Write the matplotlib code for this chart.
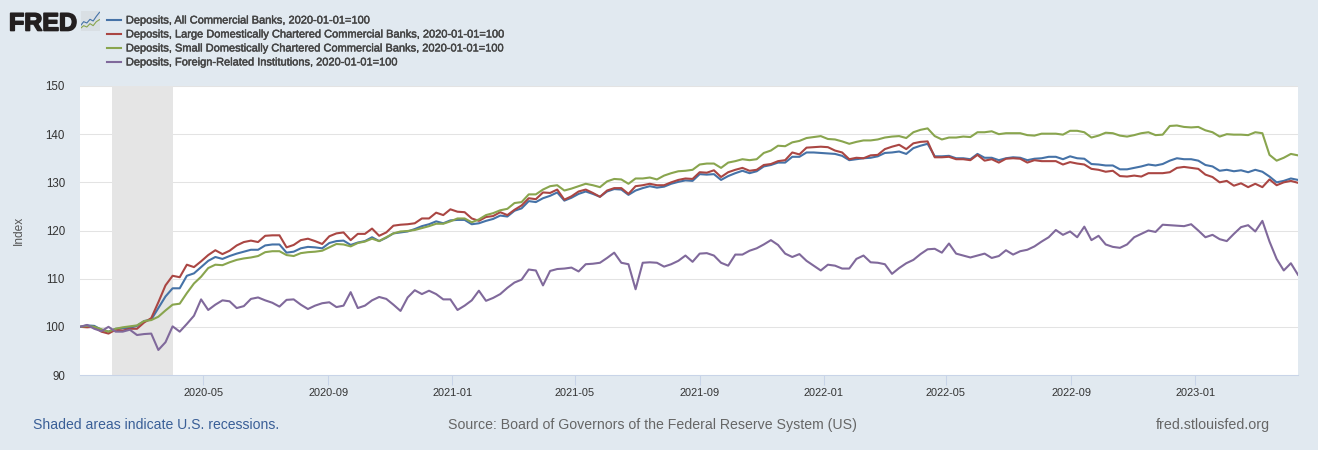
import matplotlib
matplotlib.use("Agg")
import matplotlib.pyplot as plt
import matplotlib.dates as mdates
import matplotlib.patheffects as pe
import pandas as pd

plt.rcParams['font.family'] = ['Liberation Sans', 'DejaVu Sans']

all_banks = [100,100.3,100.2,99.4,99.0,99.6,99.7,99.8,100.2,101.2,101.5,103.9,106.3,108.0,108.0,110.6,111.1,112.4,113.7,114.5,
 114.1,114.7,115.2,115.6,116.0,116.0,116.9,117.1,117.1,115.4,115.6,116.3,116.6,116.5,116.3,117.4,117.8,117.9,117.0,117.5,
 117.8,118.6,117.8,118.5,119.4,119.6,119.8,120.3,120.9,121.3,121.9,121.5,122.1,122.2,122.2,
 121.3,121.5,122.0,122.4,123.1,122.9,124.1,124.6,126.1,125.9,126.7,127.2,127.9,126.2,126.8,127.6,128.1,127.6,127.0,128.1,
 128.6,128.5,127.4,128.3,128.8,129.2,128.9,129.1,129.7,130.1,130.4,130.3,131.7,131.6,131.7,130.5,131.3,131.9,132.4,131.9,
 132.3,133.3,133.6,134.1,134.1,135.3,135.3,136.2,136.2,136.1,136.0,135.9,135.5,134.6,134.8,135.0,135.1,135.4,136.1,
 136.2,136.4,135.9,137.1,137.6,138.0,135.4,135.4,135.5,135.0,135.0,134.8,135.9,135.1,135.1,134.6,135.0,135.2,135.1,134.6,
 134.9,135.0,135.3,135.3,134.8,135.4,135.0,134.9,133.8,133.7,133.5,133.5,132.7,132.7,133.0,133.3,133.7,133.5,133.8,134.5,
 135.0,134.8,134.8,134.5,133.6,133.3,132.4,132.6,132.3,132.5,132.1,132.6,132.2,131.2,130.0,130.3,130.8,130.5]

large_banks = [100,99.9,100.0,99.0,98.6,99.4,99.2,99.6,99.6,100.9,101.8,105.1,108.6,110.6,110.3,112.9,112.4,113.6,114.9,115.9,
 115.1,115.8,116.9,117.6,117.9,117.6,118.9,119.0,119.0,116.5,117.0,118.0,118.3,117.8,117.2,118.8,119.4,119.6,118.0,119.3,
 119.3,120.4,118.9,119.6,121.0,121.2,121.3,121.5,122.5,122.5,123.7,123.2,124.4,123.9,123.8,
 122.5,122.0,122.8,123.0,123.8,123.2,124.3,125.2,126.7,126.5,127.9,127.8,128.5,126.4,127.1,128.1,128.5,127.8,127.0,128.3,
 128.8,128.8,127.6,129.2,129.4,129.7,129.4,129.4,130.0,130.5,130.8,130.7,132.1,132.0,132.5,131.1,132.1,132.6,133.0,132.4,
 132.6,133.6,133.8,134.4,134.6,136.2,135.8,137.2,137.3,137.4,137.3,136.6,136.2,134.8,135.1,135.0,135.6,135.7,136.9,
 137.4,137.8,136.9,138.1,138.4,138.5,135.2,135.2,135.3,134.8,134.8,134.6,135.7,134.5,134.8,134.1,134.9,135.0,134.9,134.1,
 134.6,134.4,134.4,134.4,133.7,134.2,133.9,133.7,132.8,132.6,132.2,132.4,131.3,131.2,131.4,131.2,131.9,131.9,131.9,132.1,
 133.0,133.2,133.0,132.8,131.6,131.1,130.0,130.3,129.3,129.8,129.0,129.7,129.0,130.6,129.4,130.0,130.3,129.9]

small_banks = [100,100.2,100.0,99.5,99.0,99.6,99.9,100.1,100.3,101.2,101.4,102.1,103.4,104.6,104.8,107.0,109.0,110.4,112.2,112.9,
 112.8,113.4,113.9,114.2,114.4,114.7,115.5,115.7,115.7,114.9,114.7,115.3,115.5,115.6,115.8,116.5,117.2,117.1,116.7,117.4,
 117.7,118.3,117.8,118.6,119.4,119.8,119.9,120.1,120.5,120.9,121.4,121.4,121.9,122.5,122.5,
 121.7,122.3,123.2,123.6,124.2,124.5,125.7,125.9,127.5,127.5,128.5,129.2,129.4,128.3,128.7,129.2,129.7,129.4,129.0,130.2,
 130.7,130.6,129.7,130.8,130.8,131.0,130.6,131.4,131.9,132.3,132.4,132.6,133.7,133.9,133.9,133.0,134.1,134.4,134.8,134.6,
 134.8,136.1,136.6,137.6,137.5,138.3,138.6,139.2,139.4,139.6,139.0,138.9,138.5,138.0,138.4,138.7,138.7,138.9,139.3,
 139.5,139.6,139.2,140.4,140.9,141.2,139.6,138.9,139.3,139.3,139.5,139.4,140.4,140.4,140.6,140.0,140.2,140.2,140.2,139.8,
 139.7,140.1,140.1,140.1,139.9,140.7,140.7,140.4,139.3,139.7,140.3,140.2,139.7,139.5,139.8,140.2,140.4,139.8,139.9,141.7,
 141.8,141.5,141.4,141.5,140.8,140.4,139.5,140.0,139.9,139.9,139.8,140.4,140.2,135.7,134.5,135.1,135.9,135.6]

foreign = [100,100.4,99.6,99.1,100.0,99.0,99.0,99.4,98.3,98.5,98.6,95.2,96.8,100.1,99.0,100.6,102.3,105.7,103.5,104.6,
 105.5,105.3,103.9,104.3,105.8,106.1,105.5,105.0,104.2,105.6,105.7,104.6,103.7,104.4,104.9,105.1,104.1,104.4,107.2,103.9,
 104.4,105.5,106.2,105.8,104.6,103.3,106.1,107.6,106.8,107.5,106.8,105.7,105.7,103.5,104.4,
 105.5,107.5,105.4,106.0,106.8,108.1,109.2,109.8,111.9,111.7,108.6,111.6,112.0,112.1,112.3,111.5,113.0,113.1,113.3,114.3,
 115.4,113.3,113.0,107.8,113.3,113.4,113.3,112.5,113.0,113.7,114.8,113.5,115.2,115.3,114.8,113.3,112.7,115.0,115.0,115.8,
 116.3,117.1,118.0,117.0,115.2,114.5,115.1,113.7,112.7,111.7,112.9,112.7,112.1,112.1,114.1,114.8,113.4,113.3,113.0,
 111.0,112.2,113.2,113.9,115.1,116.1,116.2,115.4,117.3,115.2,114.8,114.4,114.8,115.2,114.3,114.7,115.9,115.0,115.7,116.0,
 116.7,117.7,118.6,120.1,119.1,119.8,118.6,120.8,118.0,118.9,117.1,116.6,116.4,117.1,118.6,119.3,120.0,119.7,121.2,121.1,
 121.0,120.9,121.3,120.0,118.6,119.1,118.2,117.8,119.3,120.7,121.1,119.8,122.0,117.7,114.1,111.7,113.2,110.8]

series_labels = ["Deposits, All Commercial Banks, 2020-01-01=100",
                 "Deposits, Large Domestically Chartered Commercial Banks, 2020-01-01=100",
                 "Deposits, Small Domestically Chartered Commercial Banks, 2020-01-01=100",
                 "Deposits, Foreign-Related Institutions, 2020-01-01=100"]
series_colors = ["#4572a7", "#aa4643", "#89a54e", "#80699b"]
recession = ("2020-02-01", "2020-04-01")
y_ticks = [90, 100, 110, 120, 130, 140, 150]
x_ticks = ["2020-05-01", "2020-09-01", "2021-01-01", "2021-05-01", "2021-09-01", "2022-01-01",
           "2022-05-01", "2022-09-01", "2023-01-01"]

dates = pd.date_range("2020-01-01", periods=len(foreign), freq="7D")

W, H = 1318, 450
BG = "#e1e9f0"
fig = plt.figure(figsize=(W/100, H/100), dpi=100, facecolor=BG)
ax = fig.add_axes([80/W, 1-375/H, (1298-80)/W, (375-86)/H], facecolor="white")

ax.axvspan(pd.Timestamp(recession[0]), pd.Timestamp(recession[1]), color="#e5e5e5", lw=0, zorder=1)
handles = []
for vals, col, lab in zip([all_banks, large_banks, small_banks, foreign], series_colors, series_labels):
    h, = ax.plot(dates, vals, color=col, lw=1.5, label=lab, zorder=3, solid_joinstyle="round")
    handles.append(h)

ax.set_xlim(dates[0], dates[-1])
ax.set_ylim(90, 150)
ax.set_yticks(y_ticks)
ax.yaxis.grid(True, color="#e3e3e3", lw=0.75)
ax.set_axisbelow(True)
ax.set_xticks(pd.to_datetime(x_ticks))
ax.xaxis.set_major_formatter(mdates.DateFormatter("%Y-%m"))
for s in ["top", "left", "right"]:
    ax.spines[s].set_visible(False)
ax.spines["bottom"].set_color("#c8d4e8")
ax.spines["bottom"].set_linewidth(0.75)
ax.tick_params(axis="x", length=7.2, width=0.75, color="#c8d4e8", labelsize=7.9, labelcolor="#333333", pad=2)
ax.tick_params(axis="y", length=0, labelsize=8.3, labelcolor="#333333", pad=10.8)
ax.set_ylabel("Index", fontsize=8.6, color="#555555")
ax.yaxis.set_label_coords(25/W, 1-230/H, transform=fig.transFigure)

leg = fig.legend(handles=handles, loc="upper left", bbox_to_anchor=(107/W, 1-15.5/H),
                 bbox_transform=fig.transFigure, frameon=False, fontsize=7.95,
                 handlelength=1.26, handletextpad=0.45, labelspacing=0.36,
                 borderpad=0, borderaxespad=0)
for t in leg.get_texts():
    t.set_color("#444444")
    t.set_path_effects([pe.withStroke(linewidth=0.3, foreground="#444444")])

# FRED logo
fred = fig.text(9/W, 1-30.5/H, "FRED", fontsize=18, fontweight="bold", color="#231f20", va="baseline", ha="left")
fred.set_path_effects([pe.withStroke(linewidth=1.2, foreground="#231f20")])
icon = fig.add_axes([80.5/W, 1-31/H, 19/W, 20/H], facecolor="#d9dfe4")
icon.set_xlim(0, 6); icon.set_ylim(0, 6); icon.set_xticks([]); icon.set_yticks([])
for s in icon.spines.values():
    s.set_visible(False)
icon.plot([0, 1, 2, 3, 4, 5, 6], [1.6, 2.8, 2.4, 3.5, 3.0, 4.4, 5.6], color="#4572a7", lw=0.8)
icon.plot([0, 1, 2, 3, 4, 5, 6], [0.8, 1.6, 1.2, 2.2, 1.6, 2.8, 3.4], color="#89a54e", lw=0.8)

fig.text(33/W, 1-425/H, "Shaded areas indicate U.S. recessions.", fontsize=10.1, color="#3a5f97", va="center", ha="left")
fig.text(448/W, 1-425/H, "Source: Board of Governors of the Federal Reserve System (US)", fontsize=10.2, color="#666666", va="center", ha="left")
fig.text(1270/W, 1-425/H, "fred.stlouisfed.org", fontsize=10.3, color="#666666", va="center", ha="right")

fig.savefig("out.png", dpi=100, facecolor=BG)
